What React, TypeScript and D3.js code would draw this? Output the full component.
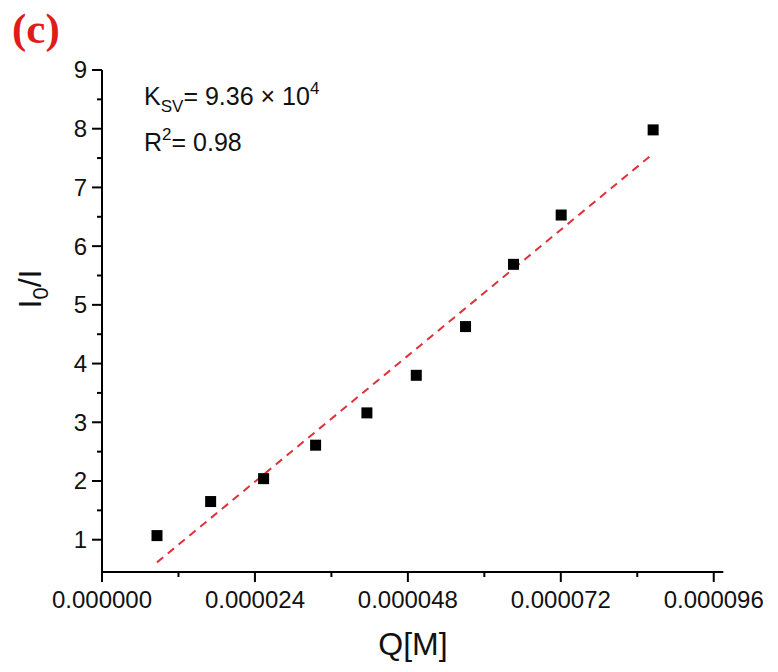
import React from "react";
import * as d3 from "d3";

// Data (Q in mol/L, I0/I)
const qValues = [8.63e-6, 17.05e-6, 25.36e-6, 33.52e-6, 41.57e-6, 49.32e-6, 57.05e-6, 64.58e-6, 72.06e-6, 86.49e-6];
const ratioValues = [1.07, 1.65, 2.04, 2.61, 3.16, 3.8, 4.63, 5.69, 6.53, 7.98];
const xMajorTicks = [0, 24e-6, 48e-6, 72e-6, 96e-6];
const xMinorTicks = [12e-6, 36e-6, 60e-6, 84e-6];
const yMajorTicks = [1, 2, 3, 4, 5, 6, 7, 8, 9];
const yMinorTicks = [1.5, 2.5, 3.5, 4.5, 5.5, 6.5, 7.5, 8.5];
const xDomain = [0, 97.5e-6];
const yDomain = [0.45, 9];

const FONT = "'Liberation Sans', Arial, sans-serif";

export default function App() {
  const W = 778;
  const H = 672;
  const x = d3.scaleLinear().domain(xDomain).range([102, 723.3]);
  const y = d3.scaleLinear().domain(yDomain).range([572, 70]);

  // linear least-squares fit from the data
  const n = qValues.length;
  const mx = d3.mean(qValues) as number;
  const my = d3.mean(ratioValues) as number;
  let sxy = 0;
  let sxx = 0;
  for (let i = 0; i < n; i++) {
    sxy += (qValues[i] - mx) * (ratioValues[i] - my);
    sxx += (qValues[i] - mx) ** 2;
  }
  const slope = sxy / sxx;
  const intercept = my - slope * mx;
  const x0 = qValues[0];
  const x1 = qValues[n - 1];
  const fitLine = d3
    .line<number>()
    .x((d) => x(d))
    .y((d) => y(intercept + slope * d))([x0, x1]);

  const axisY = y(yDomain[0]);
  const axisX = x(xDomain[0]);
  const sq = 11;

  return (
    <svg
      width={W}
      height={H}
      style={{ position: "absolute", left: 0, top: 0, background: "#fff" }}
    >
      <rect x={0} y={0} width={W} height={H} fill="#fff" />
      <text
        x={12}
        y={43}
        fill="#e01b1b"
        fontFamily="'Liberation Serif', 'Times New Roman', serif"
        fontWeight="bold"
        fontSize={43}
      >
        (c)
      </text>

      {/* axes lines */}
      <line x1={axisX} x2={axisX} y1={y(9)} y2={axisY} stroke="#000" strokeWidth={2} />
      <line x1={axisX - 1} x2={x(xDomain[1])} y1={axisY} y2={axisY} stroke="#000" strokeWidth={2} />

      {/* y ticks */}
      {yMajorTicks.map((t) => (
        <g key={"ym" + t}>
          <line x1={axisX - 10} x2={axisX} y1={y(t)} y2={y(t)} stroke="#000" strokeWidth={2} />
          <text
            x={axisX - 15}
            y={y(t)}
            dy="0.35em"
            textAnchor="end"
            fontFamily={FONT}
            fontSize={24}
            fill="#111"
          >
            {t}
          </text>
        </g>
      ))}
      {yMinorTicks.map((t) => (
        <line key={"yn" + t} x1={axisX - 5} x2={axisX} y1={y(t)} y2={y(t)} stroke="#000" strokeWidth={2} />
      ))}

      {/* x ticks */}
      {xMajorTicks.map((t) => (
        <g key={"xm" + t}>
          <line x1={x(t)} x2={x(t)} y1={axisY} y2={axisY + 10} stroke="#000" strokeWidth={2} />
          <text
            x={x(t)}
            y={axisY + 36}
            textAnchor="middle"
            fontFamily={FONT}
            fontSize={24}
            fill="#111"
          >
            {t.toFixed(6)}
          </text>
        </g>
      ))}
      {xMinorTicks.map((t) => (
        <line key={"xn" + t} x1={x(t)} x2={x(t)} y1={axisY} y2={axisY + 5} stroke="#000" strokeWidth={2} />
      ))}

      {/* fit line */}
      <path d={fitLine || ""} fill="none" stroke="#e0303a" strokeWidth={2} strokeDasharray="8,6" />

      {/* points */}
      {qValues.map((q, i) => (
        <rect
          key={"p" + i}
          x={x(q) - sq / 2}
          y={y(ratioValues[i]) - sq / 2}
          width={sq}
          height={sq}
          fill="#000"
        />
      ))}

      {/* annotations */}
      <text x={144} y={105} fontFamily={FONT} fontSize={25} fill="#111">
        K
        <tspan fontSize={17} dy={7}>SV</tspan>
        <tspan dy={-7}>= 9.36 × 10</tspan>
        <tspan fontSize={17} dy={-11}>4</tspan>
      </text>
      <text x={144} y={151} fontFamily={FONT} fontSize={25} fill="#111">
        R
        <tspan fontSize={17} dy={-11}>2</tspan>
        <tspan dy={11}>= 0.98</tspan>
      </text>

      {/* axis titles */}
      <text
        x={413}
        y={655}
        textAnchor="middle"
        fontFamily={FONT}
        fontSize={32}
        fill="#111"
      >
        Q[M]
      </text>
      <text
        transform={`translate(41, ${289}) rotate(-90)`}
        textAnchor="middle"
        fontFamily={FONT}
        fontSize={32}
        fill="#111"
      >
        I<tspan fontSize={22} dy={7}>0</tspan>
        <tspan dy={-7}>/I</tspan>
      </text>
    </svg>
  );
}
